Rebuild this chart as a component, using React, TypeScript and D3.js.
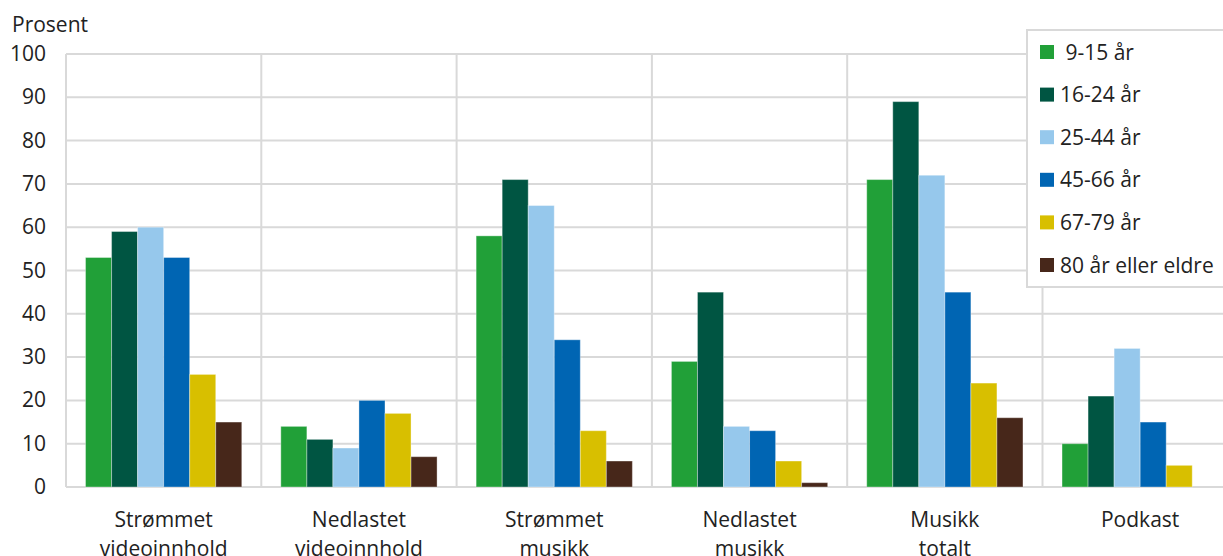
import React from "react";
import * as d3 from "d3";

const categories: string[][] = [
  ["Strømmet", "videoinnhold"],
  ["Nedlastet", "videoinnhold"],
  ["Strømmet", "musikk"],
  ["Nedlastet", "musikk"],
  ["Musikk", "totalt"],
  ["Podkast"],
];
const seriesNames = [" 9-15 år", "16-24 år", "25-44 år", "45-66 år", "67-79 år", "80 år eller eldre"];
const seriesColors = ["#21a038", "#005542", "#96c8ec", "#0065b3", "#d8bf00", "#47271a"];
const age9_15 = [53, 14, 58, 29, 71, 10];
const age16_24 = [59, 11, 71, 45, 89, 21];
const age25_44 = [60, 9, 65, 14, 72, 32];
const age45_66 = [53, 20, 34, 13, 45, 15];
const age67_79 = [26, 17, 13, 6, 24, 5];
const age80 = [15, 7, 6, 1, 16, 0];
const seriesValues = [age9_15, age16_24, age25_44, age45_66, age67_79, age80];
const yTicks = [0, 10, 20, 30, 40, 50, 60, 70, 80, 90, 100];

export default function App() {
  const W = 1223, H = 556;
  const left = 66, groupW = 195.3, top = 54, bottom = 487;
  const font = "'Open Sans', sans-serif";
  const fs = 21;
  const x0 = d3.scaleBand<number>().domain(categories.map((_, i) => i)).range([left, left + groupW * 6]).paddingInner(0).paddingOuter(0);
  const x1 = d3.scaleBand<number>().domain(seriesNames.map((_, i) => i)).range([0, groupW]).paddingOuter(0.75).paddingInner(0);
  const y = d3.scaleLinear().domain([0, 100]).range([bottom, top]);
  const grid = "#d9d9d9";
  return (
    <svg width={W} height={H} style={{ position: "absolute", left: 0, top: 0 }} fontFamily={font}>
      <text x={12} y={32} fontSize={fs} fill="#222">Prosent</text>
      {yTicks.map((t) => (
        <g key={t}>
          <line x1={left} x2={W} y1={y(t)} y2={y(t)} stroke={grid} strokeWidth={2} />
          <text x={46} y={y(t) + 7} fontSize={fs} textAnchor="end" fill="#222">{t}</text>
        </g>
      ))}
      {categories.map((_, i) => (
        <line key={i} x1={x0(i)!} x2={x0(i)!} y1={top} y2={bottom} stroke={grid} strokeWidth={2} />
      ))}
      {categories.map((cat, i) =>
        seriesValues.map((vals, s) =>
          vals[i] > 0 ? (
            <rect key={`${i}-${s}`} x={x0(i)! + x1(s)!} y={y(vals[i])} width={x1.bandwidth()} height={bottom - y(vals[i])}
              fill={seriesColors[s]} stroke="rgba(255,255,255,0.35)" strokeWidth={1} />
          ) : null
        )
      )}
      {categories.map((cat, i) => (
        <text key={i} x={x0(i)! + groupW / 2} y={527} fontSize={fs} textAnchor="middle" fill="#222">
          {cat.map((l, k) => (
            <tspan key={k} x={x0(i)! + groupW / 2} dy={k === 0 ? 0 : 29}>{l}</tspan>
          ))}
        </text>
      ))}
      <g>
        <rect x={1027} y={30} width={210} height={257} fill="#fff" stroke={grid} strokeWidth={2} />
        {seriesNames.map((n, s) => (
          <g key={s}>
            <rect x={1040} y={45 + s * 42.6} width={14} height={14} fill={seriesColors[s]} />
            <text x={1060} y={59.5 + s * 42.6} fontSize={fs} fill="#222" style={{ whiteSpace: "pre" }} xmlSpace="preserve">{n}</text>
          </g>
        ))}
      </g>
    </svg>
  );
}
